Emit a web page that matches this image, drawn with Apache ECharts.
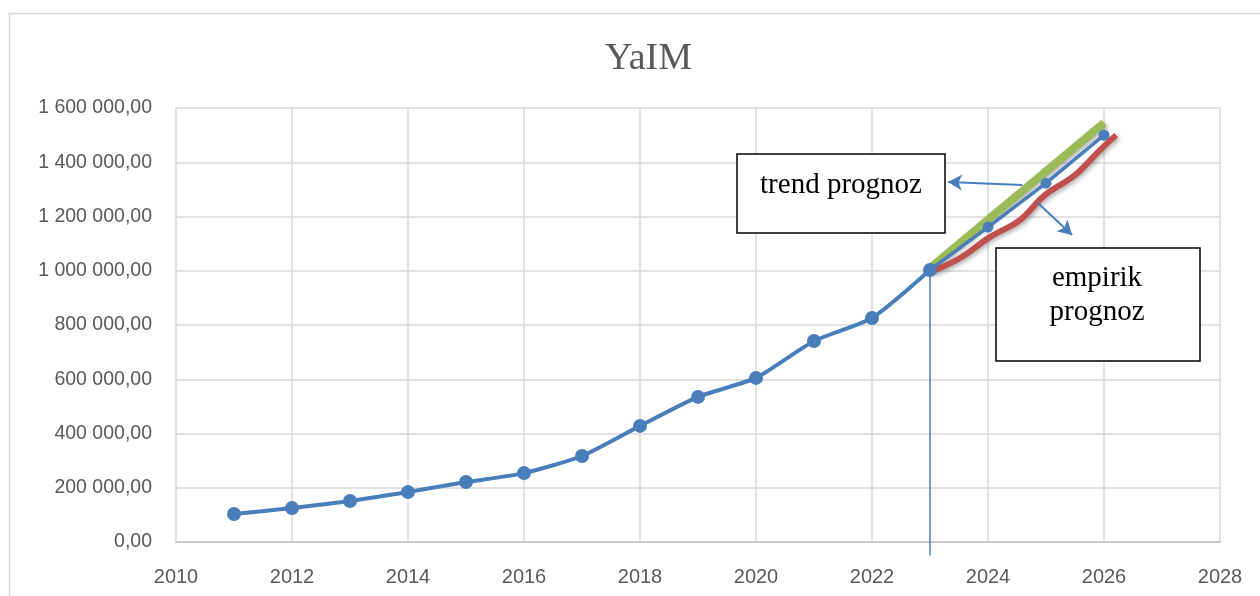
<!DOCTYPE html>
<html>
<head>
<meta charset="utf-8">
<script src="https://cdn.jsdelivr.net/npm/echarts@6/dist/echarts.min.js"></script>
<style>
  html, body { margin: 0; padding: 0; background: #fff; }
  #chart { width: 1260px; height: 596px; }
</style>
</head>
<body>
<div id="chart"></div>
<script>
// actual YaIM values, 2011-2023
var years = [2011, 2012, 2013, 2014, 2015, 2016, 2017, 2018, 2019, 2020, 2021, 2022, 2023];
var yaim = [103000, 125000, 151000, 184000, 221000, 254000, 317000, 428000, 535000, 605000, 741000, 826000, 1003000];

// forecasts
var forecastYears = [2023, 2024, 2025, 2026];
var forecast = [1003000, 1161000, 1323000, 1500000];
var trendYears = [2023, 2026];
var trend = [1010000, 1545000];
var empirikYears = [2023.0, 2023.52, 2024.03, 2024.55, 2024.98, 2025.5, 2025.93, 2026.21];
var empirik = [995000, 1047000, 1124000, 1187000, 1279000, 1353000, 1445000, 1500000];

// pointer line down from 2023 and the two arrows
var pointerYears = [2023, 2023];
var pointer = [1003000, -50000];
var arrowTrend = [[2024.59, 1316000], [2023.31, 1327000]];
var arrowEmpirik = [[2024.86, 1250000], [2025.45, 1132000]];

function pairs(xs, ys) {
    return xs.map(function (x, i) { return [x, ys[i]]; });
}

function fmt(v) {
    return String(v).replace(/\B(?=(\d{3})+(?!\d))/g, ' ') + ',00';
}

var chart = echarts.init(document.getElementById('chart'));
var blue = '#4a7ebb';

var option = {
    animation: false,
    backgroundColor: '#fff',
    title: {
        text: 'YaIM',
        left: 600,
        top: 35,
        textStyle: { fontFamily: 'Liberation Serif', fontSize: 38, fontWeight: 'normal', color: '#595959' }
    },
    grid: { left: 176, right: 40, top: 108, bottom: 54 },
    xAxis: {
        type: 'value',
        min: 2010, max: 2028, interval: 2,
        axisLine: { lineStyle: { color: '#bfbfbf', width: 1.5 } },
        axisTick: { show: false },
        splitLine: { lineStyle: { color: '#d9d9d9', width: 1.5 } },
        axisLabel: { color: '#595959', fontFamily: 'Liberation Sans', fontSize: 20, margin: 25,
            formatter: function (v) { return String(v); } }
    },
    yAxis: {
        type: 'value',
        min: 0, max: 1600000, interval: 200000,
        axisLine: { show: false },
        axisTick: { show: false },
        splitLine: { lineStyle: { color: '#d9d9d9', width: 1.5 } },
        axisLabel: { color: '#595959', fontFamily: 'Liberation Sans', fontSize: 19.5, margin: 24, formatter: fmt }
    },
    graphic: [
        { type: 'rect', z: -1, shape: { x: 9.5, y: 13.5, width: 1300, height: 700 },
          style: { fill: 'none', stroke: '#d9d9d9', lineWidth: 1.5 } },
        { type: 'rect', z: 100, shape: { x: 737, y: 154, width: 208, height: 79 },
          style: { fill: '#fff', stroke: '#000', lineWidth: 1.5 } },
        { type: 'text', z: 101, x: 841, y: 185,
          style: { text: 'trend prognoz', font: '29px "Liberation Serif"', fill: '#000',
                   textAlign: 'center', textVerticalAlign: 'middle' } },
        { type: 'rect', z: 100, shape: { x: 996, y: 248, width: 204, height: 113 },
          style: { fill: '#fff', stroke: '#000', lineWidth: 1.5 } },
        { type: 'text', z: 101, x: 1097, y: 295,
          style: { text: 'empirik\nprognoz', font: '29px "Liberation Serif"', lineHeight: 34, fill: '#000',
                   textAlign: 'center', textVerticalAlign: 'middle' } }
    ],
    series: [
        {
            name: 'YaIM',
            type: 'line',
            data: pairs(years, yaim),
            smooth: 0.2,
            symbol: 'circle',
            symbolSize: 14,
            itemStyle: { color: blue },
            lineStyle: { color: blue, width: 4 },
            z: 5
        },
        {
            name: 'trend',
            type: 'line',
            data: pairs(trendYears, trend),
            symbol: 'none',
            lineStyle: { color: '#9bbb59', width: 8, shadowColor: 'rgba(0,0,0,0.3)', shadowBlur: 4, shadowOffsetX: 2, shadowOffsetY: 2 },
            z: 3
        },
        {
            name: 'empirik',
            type: 'line',
            data: pairs(empirikYears, empirik),
            smooth: 0.4,
            symbol: 'none',
            lineStyle: { color: '#c0504d', width: 6, shadowColor: 'rgba(0,0,0,0.3)', shadowBlur: 4, shadowOffsetX: 2, shadowOffsetY: 2 },
            z: 3
        },
        {
            name: 'prognoz',
            type: 'line',
            data: pairs(forecastYears, forecast),
            symbol: 'circle',
            symbolSize: 11,
            itemStyle: { color: blue },
            lineStyle: { color: blue, width: 3.5 },
            z: 4
        },
        {
            name: 'pointer',
            type: 'line',
            data: pairs(pointerYears, pointer),
            clip: false,
            symbol: 'none',
            lineStyle: { color: blue, width: 1.5 },
            z: 4,
            markLine: {
                silent: true,
                symbol: ['none', 'arrow'],
                symbolSize: [12, 14],
                label: { show: false },
                lineStyle: { color: blue, width: 2, type: 'solid' },
                data: [
                    [{ coord: arrowTrend[0] }, { coord: arrowTrend[1] }],
                    [{ coord: arrowEmpirik[0] }, { coord: arrowEmpirik[1] }]
                ]
            }
        }
    ]
};
chart.setOption(option);
</script>
</body>
</html>
